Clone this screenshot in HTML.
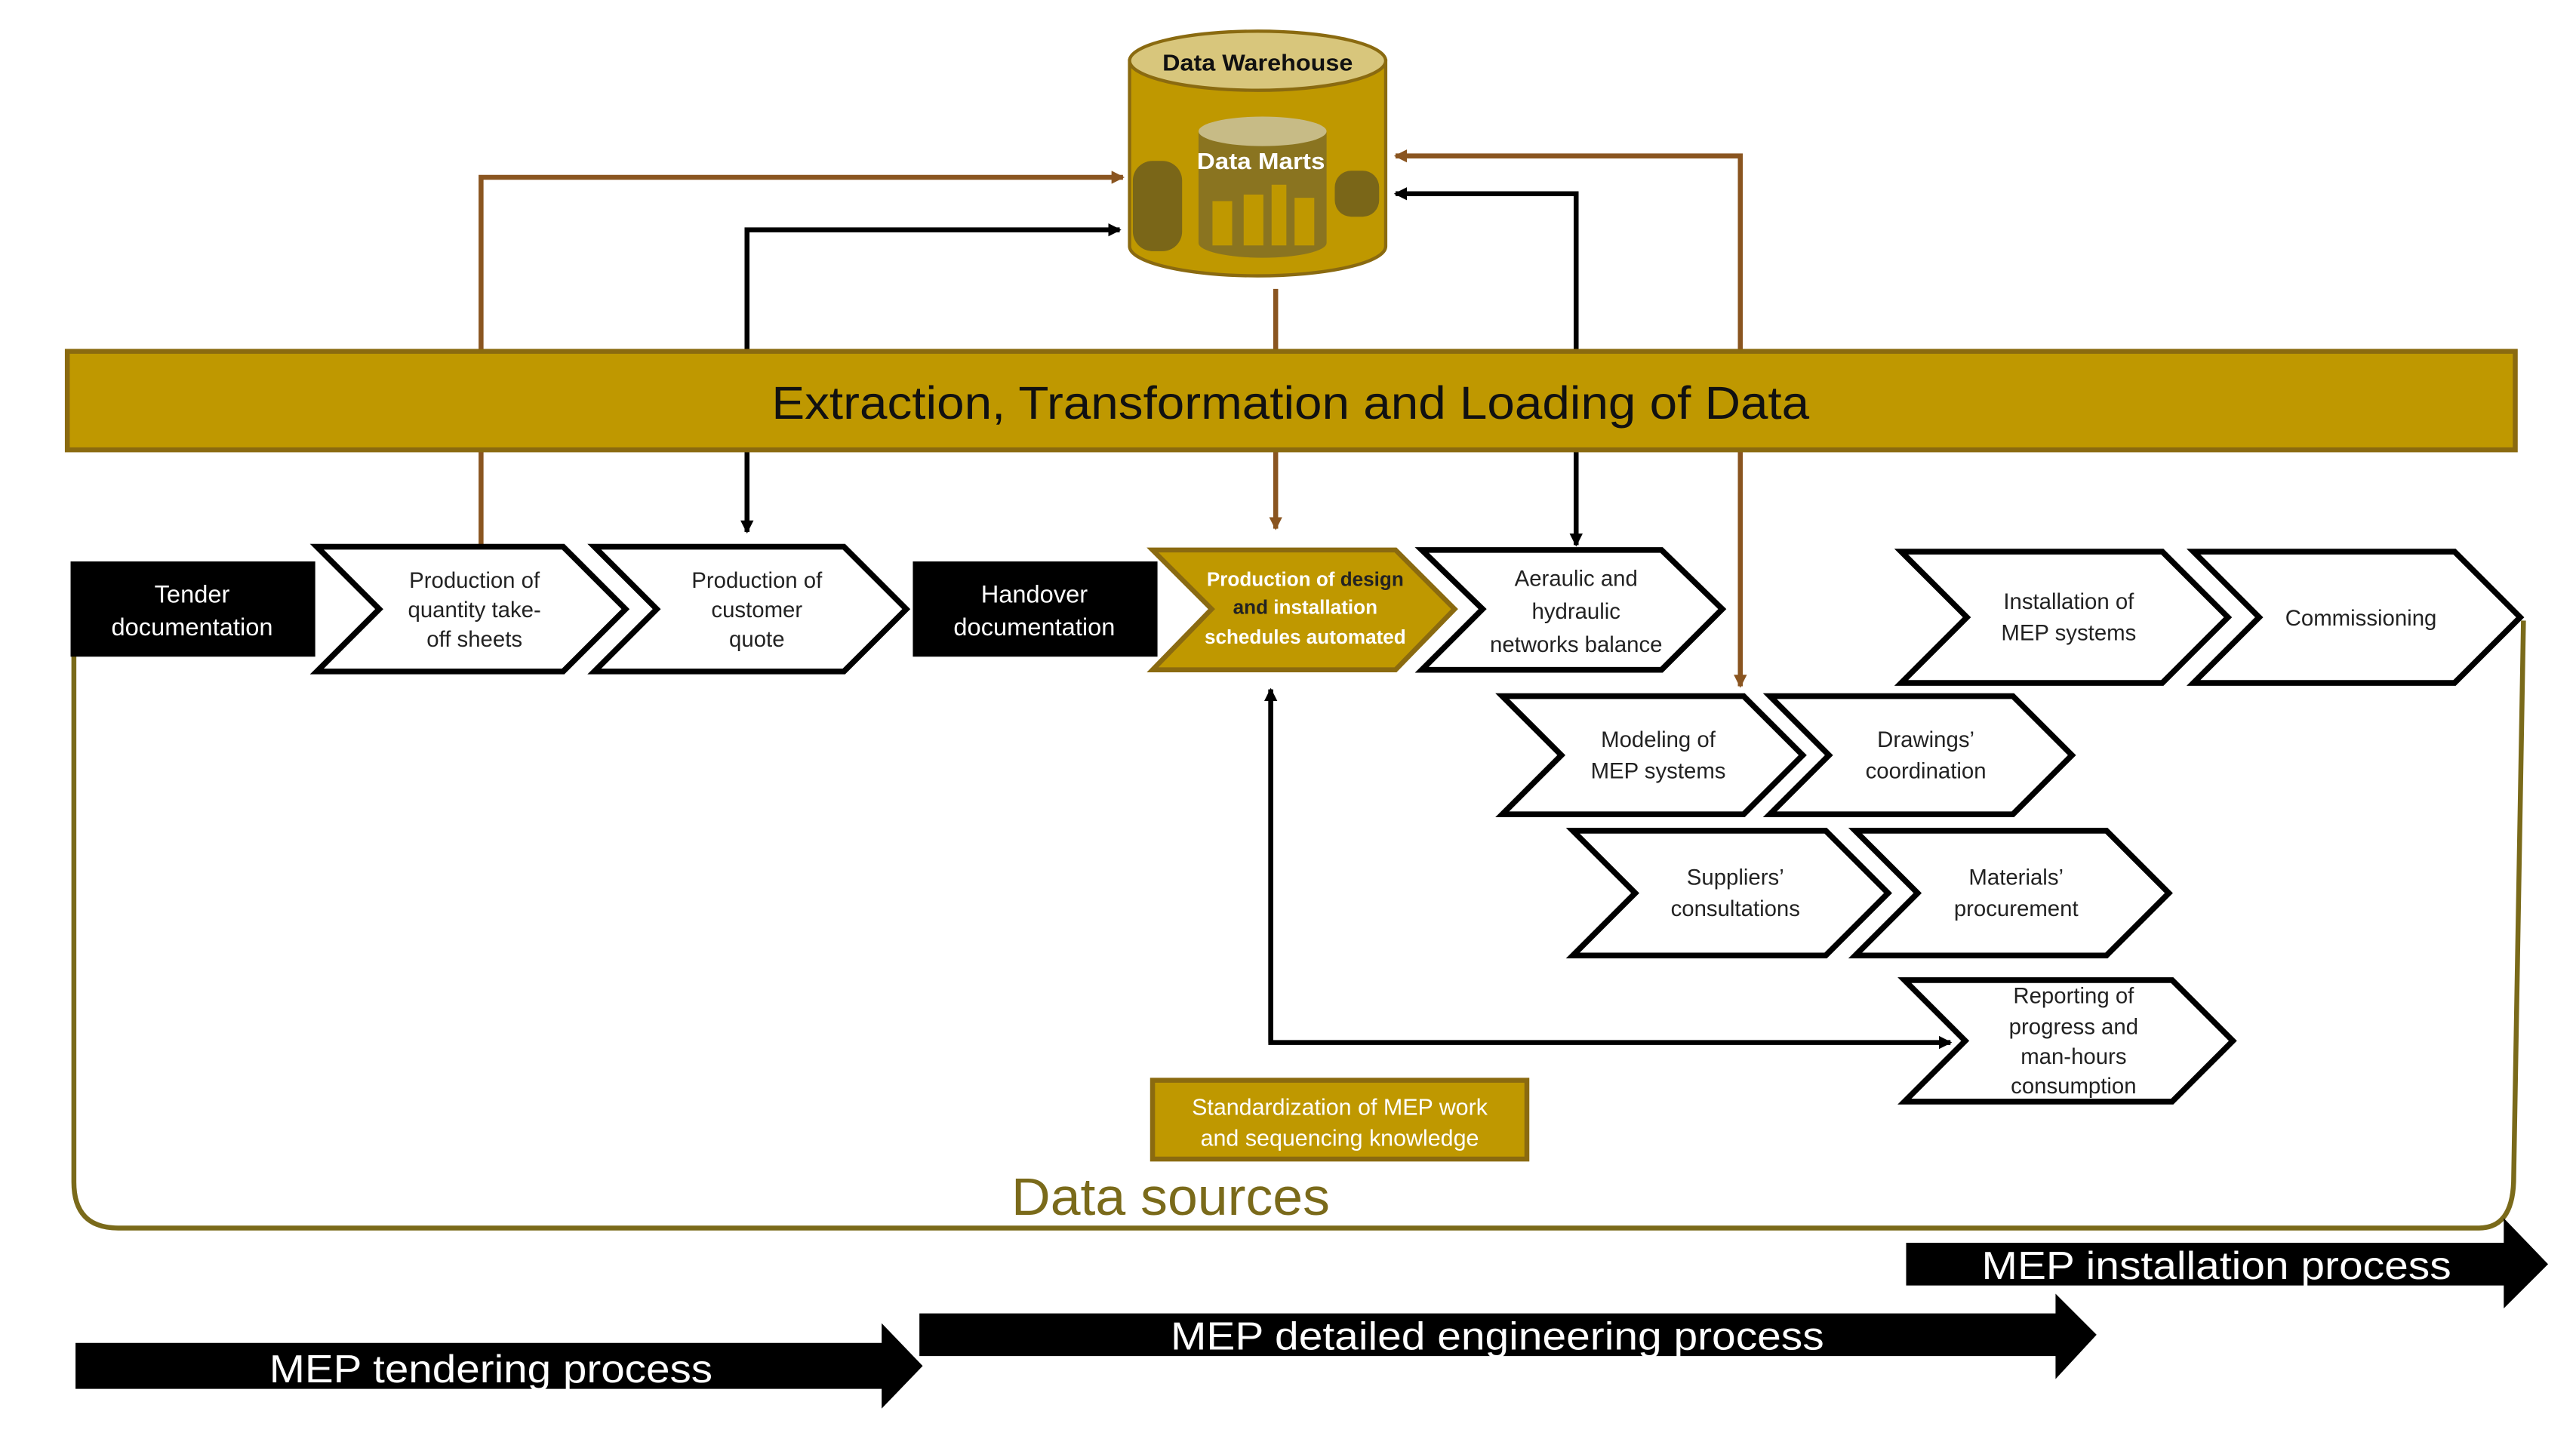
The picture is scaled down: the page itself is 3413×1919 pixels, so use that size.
<!DOCTYPE html>
<html><head><meta charset="utf-8"><style>
html,body{margin:0;padding:0;background:#fff;}
svg{display:block;}
text{font-family:"Liberation Sans",sans-serif;}
</style></head><body>
<svg width="3413" height="1919" viewBox="0 0 1569 882" preserveAspectRatio="none" xmlns="http://www.w3.org/2000/svg">
<defs>
<marker id="ab" markerWidth="8" markerHeight="8" refX="7" refY="4" orient="auto" markerUnits="userSpaceOnUse"><path d="M0,0 L8,4 L0,8 Z" fill="#000"/></marker>
<marker id="ar" markerWidth="8" markerHeight="8" refX="7" refY="4" orient="auto" markerUnits="userSpaceOnUse"><path d="M0,0 L8,4 L0,8 Z" fill="#8a5520"/></marker>
</defs>

<path d="M45,380 L45,720 Q45,748 72,748 L1510,748 Q1530,748 1531,720 L1537,378" fill="none" stroke="#7a6a1a" stroke-width="3"/>

<path d="M688,37 L688,150 A78,18 0 0 0 844,150 L844,37 Z" fill="#bf9800" stroke="#8a6a10" stroke-width="2"/>
<ellipse cx="766" cy="37" rx="78" ry="18" fill="#d8c67c" stroke="#8a6a10" stroke-width="2"/>
<text x="766" y="43" font-size="14" font-weight="bold" text-anchor="middle" fill="#111" textLength="116" lengthAdjust="spacingAndGlyphs">Data Warehouse</text>
<path d="M730,80 L730,148 A39,9 0 0 0 808,148 L808,80 Z" fill="#8a7420"/>
<ellipse cx="769" cy="80" rx="39" ry="9" fill="#c7bb86"/>
<text x="768" y="103" font-size="14" font-weight="bold" text-anchor="middle" fill="#fff" textLength="78" lengthAdjust="spacingAndGlyphs">Data Marts</text>
<rect x="690" y="98" width="30" height="55" rx="12" fill="#7a6618"/>
<rect x="813" y="104" width="27" height="28" rx="10" fill="#7a6618"/>
<rect x="738" y="122" width="13" height="28" fill="#bf9800" stroke="#8a7420"/>
<rect x="757" y="118" width="13" height="32" fill="#bf9800" stroke="#8a7420"/>
<rect x="774" y="112" width="10" height="38" fill="#bf9800" stroke="#8a7420"/>
<rect x="788" y="120" width="13" height="30" fill="#bf9800" stroke="#8a7420"/>

<g fill="none" stroke-width="3">
<path d="M293,332 L293,108 L684,108" stroke="#8a5520" marker-end="url(#ar)"/>
<path d="M455,214 L455,140 L682,140" stroke="#000" marker-end="url(#ab)"/>
<path d="M455,274 L455,324" stroke="#000" marker-end="url(#ab)"/>
<path d="M777,176 L777,214" stroke="#8a5520"/>
<path d="M777,274 L777,322" stroke="#8a5520" marker-end="url(#ar)"/>
<path d="M1060,415 L1060,95 L850,95" stroke="#8a5520" marker-end="url(#ar)"/>
<path d="M1060,300 L1060,418" stroke="#8a5520" marker-end="url(#ar)"/>
<path d="M960,214 L960,118 L850,118" stroke="#000" marker-end="url(#ab)"/>
<path d="M960,274 L960,332" stroke="#000" marker-end="url(#ab)"/>
<path d="M774,420 L774,635 L1188,635" stroke="#000" marker-end="url(#ab)"/>
<path d="M774,635 L774,420" stroke="#000" marker-end="url(#ab)"/>
</g>

<rect x="41" y="214" width="1491" height="60" fill="#bf9800" stroke="#8a6a10" stroke-width="3"/>
<text x="786" y="255" font-size="28" text-anchor="middle" fill="#111" textLength="632" lengthAdjust="spacingAndGlyphs">Extraction, Transformation and Loading of Data</text>

<rect x="43" y="342" width="149" height="58" fill="#000"/>
<text x="117" y="367" font-size="15" fill="#fff" text-anchor="middle">Tender</text>
<text x="117" y="387" font-size="15" fill="#fff" text-anchor="middle">documentation</text>
<rect x="556" y="342" width="149" height="58" fill="#000"/>
<text x="630" y="367" font-size="15" fill="#fff" text-anchor="middle">Handover</text>
<text x="630" y="387" font-size="15" fill="#fff" text-anchor="middle">documentation</text>

<g stroke="#000" stroke-width="3.5" fill="#fff" stroke-linejoin="miter">
<path d="M193,333 L343,333 L381,371 L343,409 L193,409 L231,371 Z"/>
<path d="M362,333 L514,333 L552,371 L514,409 L362,409 L400,371 Z"/>
<path d="M866,335 L1012,335 L1049,371 L1012,408 L866,408 L903,371 Z"/>
<path d="M1158,336 L1317,336 L1357,376 L1317,416 L1158,416 L1198,376 Z"/>
<path d="M1336,336 L1495,336 L1535,376 L1495,416 L1336,416 L1376,376 Z"/>
<path d="M915,424 L1062,424 L1098,460 L1062,496 L915,496 L951,460 Z"/>
<path d="M1078,424 L1226,424 L1262,460 L1226,496 L1078,496 L1114,460 Z"/>
<path d="M958,506 L1112,506 L1150,544 L1112,582 L958,582 L996,544 Z"/>
<path d="M1130,506 L1283,506 L1321,544 L1283,582 L1130,582 L1168,544 Z"/>
<path d="M1160,597 L1323,597 L1360,634 L1323,671 L1160,671 L1197,634 Z"/>
</g>
<path d="M702,335 L850,335 L886,371 L850,408 L702,408 L738,371 Z" fill="#bf9800" stroke="#8a6a10" stroke-width="3"/>

<g font-size="13.5" text-anchor="middle" fill="#222">
<text x="289" y="358">Production of</text><text x="289" y="376">quantity take-</text><text x="289" y="394">off sheets</text>
<text x="461" y="358">Production of</text><text x="461" y="376">customer</text><text x="461" y="394">quote</text>
<text x="960" y="357">Aeraulic and</text><text x="960" y="377">hydraulic</text><text x="960" y="397">networks balance</text>
<text x="1260" y="371">Installation of</text><text x="1260" y="390">MEP systems</text>
<text x="1438" y="381">Commissioning</text>
<text x="1010" y="455">Modeling of</text><text x="1010" y="474">MEP systems</text>
<text x="1173" y="455">Drawings’</text><text x="1173" y="474">coordination</text>
<text x="1057" y="539">Suppliers’</text><text x="1057" y="558">consultations</text>
<text x="1228" y="539">Materials’</text><text x="1228" y="558">procurement</text>
<text x="1263" y="611">Reporting of</text><text x="1263" y="630">progress and</text><text x="1263" y="648">man-hours</text><text x="1263" y="666">consumption</text>
</g>
<g font-size="12" font-weight="bold" text-anchor="middle">
<text x="795" y="357"><tspan fill="#fff">Production of </tspan><tspan fill="#222">design</tspan></text>
<text x="795" y="374"><tspan fill="#222">and </tspan><tspan fill="#fff">installation</tspan></text>
<text x="795" y="392" fill="#fff">schedules automated</text>
</g>

<rect x="702" y="658" width="228" height="48" fill="#bf9800" stroke="#8a6a10" stroke-width="3"/>
<text x="816" y="679" font-size="14" fill="#fff" text-anchor="middle">Standardization of MEP work</text>
<text x="816" y="698" font-size="14" fill="#fff" text-anchor="middle">and sequencing knowledge</text>

<text x="713" y="740" font-size="32" fill="#7a6a1a" text-anchor="middle" textLength="194" lengthAdjust="spacingAndGlyphs">Data sources</text>

<path d="M46,818 L537,818 L537,806 L562,832 L537,858 L537,846 L46,846 Z" fill="#000"/>
<text x="299" y="842" font-size="24" fill="#fff" text-anchor="middle" textLength="270" lengthAdjust="spacingAndGlyphs">MEP tendering process</text>
<path d="M560,800 L1252,800 L1252,788 L1277,813 L1252,840 L1252,826 L560,826 Z" fill="#000"/>
<text x="912" y="822" font-size="24" fill="#fff" text-anchor="middle" textLength="398" lengthAdjust="spacingAndGlyphs">MEP detailed engineering process</text>
<path d="M1161,757 L1525,757 L1525,742 L1552,770 L1525,797 L1525,783 L1161,783 Z" fill="#000"/>
<text x="1350" y="779" font-size="24" fill="#fff" text-anchor="middle" textLength="286" lengthAdjust="spacingAndGlyphs">MEP installation process</text>
</svg>
</body></html>
